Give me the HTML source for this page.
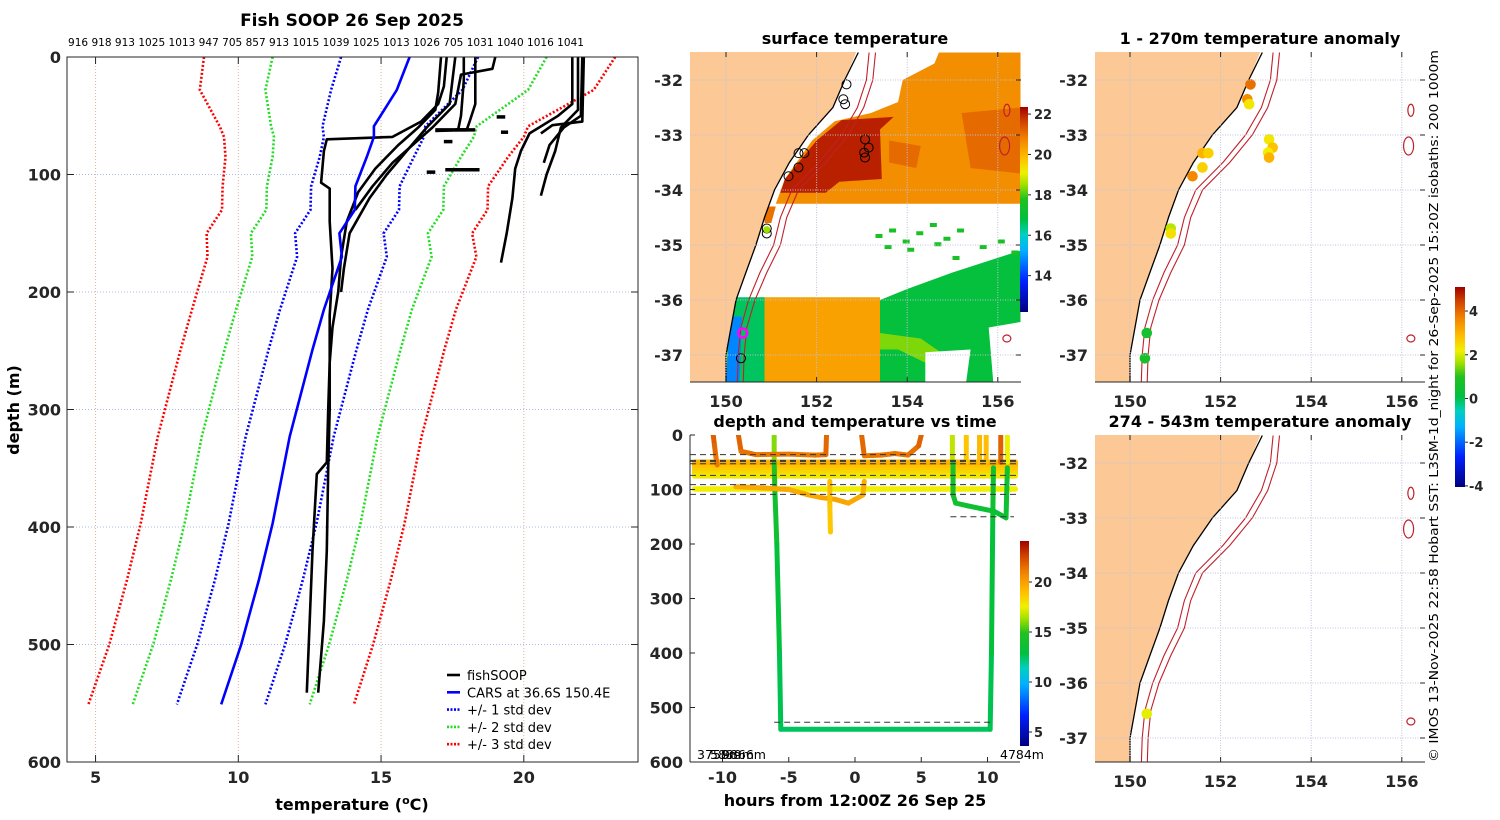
<!DOCTYPE html>
<html><head><meta charset="utf-8"><title>Fish SOOP 26 Sep 2025</title>
<style>
html,body{margin:0;padding:0;background:#fff;}
svg{display:block;font-family:"DejaVu Sans","Liberation Sans",sans-serif;}
.tk{font-weight:bold;font-size:16px;fill:#262626;}
.tt{font-weight:bold;font-size:16px;fill:#000;}
.cb{font-weight:bold;font-size:13px;fill:#262626;}
</style></head>
<body>
<svg id="fig" width="1500" height="820" viewBox="0 0 1500 820" xmlns="http://www.w3.org/2000/svg">
<defs>
<clipPath id="clipL"><rect x="67" y="57" width="571" height="705"/></clipPath>
<clipPath id="clipM1"><rect x="690" y="52" width="331" height="330"/></clipPath>
<clipPath id="clipM2"><rect x="690" y="435" width="330" height="327"/></clipPath>
<clipPath id="clipR1"><rect x="1095" y="52" width="330" height="330"/></clipPath>
<clipPath id="clipR2"><rect x="1095" y="435" width="330" height="327"/></clipPath>
<linearGradient id="gradSST" x1="0" y1="1" x2="0" y2="0"></linearGradient>
<linearGradient id="gradTime" x1="0" y1="1" x2="0" y2="0"></linearGradient>
<linearGradient id="gradAnom" x1="0" y1="1" x2="0" y2="0"></linearGradient>
</defs>

<g>
<text x="352" y="26" text-anchor="middle" style="font-weight:bold;font-size:17px">Fish SOOP 26 Sep 2025</text>
<text x="68" y="46" textLength="516" lengthAdjust="spacingAndGlyphs" style="font-size:10.5px">916 918 913 1025 1013 947 705 857 913 1015 1039 1025 1013 1026 705 1031 1040 1016 1041</text>
<g id="gridL"></g>
<g id="marksL" clip-path="url(#clipL)"></g>
<rect x="67" y="57" width="571" height="705" fill="none" stroke="#262626" stroke-width="1"/>
<g id="ticksL"></g>
<text class="tt" transform="translate(19,410) rotate(-90)" text-anchor="middle">depth (m)</text>
<text class="tt" x="352" y="810" text-anchor="middle">temperature (<tspan dy="-6" font-size="11">o</tspan><tspan dy="6">C)</tspan></text>
<g id="legendL"></g>
</g>

<g>
<text class="tt" x="855" y="44" text-anchor="middle">surface temperature</text>
<g id="mapM1" clip-path="url(#clipM1)"></g>
<g id="axM1"></g>
<rect x="1020" y="107" width="8" height="205" fill="url(#gradSST)"/>
<g id="cbM1"></g>
</g>

<g>
<text class="tt" x="855" y="427" text-anchor="middle">depth and temperature vs time</text>
<g id="marksM2" clip-path="url(#clipM2)"></g>
<g id="axM2"></g>
<text class="tt" x="855" y="806" text-anchor="middle">hours from 12:00Z 26 Sep 25</text>
<rect x="1020" y="541" width="9" height="205" fill="url(#gradTime)"/>
<g id="cbM2"></g>
<text x="697" y="759" style="font-size:12.5px">3758m</text>
<text x="710" y="759" style="font-size:12.5px">5839m</text>
<text x="722" y="759" style="font-size:12.5px">9866m</text>
<text x="1000" y="759" style="font-size:12.5px">4784m</text>
</g>

<g>
<text class="tt" x="1260" y="44" text-anchor="middle">1 - 270m temperature anomaly</text>
<g id="mapR1" clip-path="url(#clipR1)"></g>
<g id="axR1"></g>
</g>
<g>
<text class="tt" x="1260" y="427" text-anchor="middle">274 - 543m temperature anomaly</text>
<g id="mapR2" clip-path="url(#clipR2)"></g>
<g id="axR2"></g>
</g>
<rect x="1455" y="287" width="10" height="200" fill="url(#gradAnom)"/>
<g id="cbR"></g>
<text transform="translate(1438,762) rotate(-90)" textLength="712" lengthAdjust="spacingAndGlyphs" style="font-size:12.5px">© IMOS 13-Nov-2025 22:58 Hobart SST: L3SM-1d_night for 26-Sep-2025 15:20Z isobaths: 200  1000m</text>
</svg>

<script>
// ---------- DATA ----------
const carsDepth = [0,28,59,68,85,110,130,150,170,215,249,323,397,445,500,551];
const carsTemp  = [16.0,15.55,14.75,14.75,14.5,14.1,14.08,13.54,13.63,13.0,12.6,11.8,11.2,10.72,10.1,9.4];
const carsStd   = [2.4,2.3,1.8,1.75,1.65,1.55,1.55,1.55,1.57,1.54,1.54,1.54,1.54,1.54,1.54,1.55];
const stdMultipliers = [1,2,3];
const stdColors = ['#0000ff','#22dd22','#ff0000'];

const profDepths = [
 [0,30,45,60,75,95,115,140,170,200,230,260,300,345,355,420,480,541],
 [0,25,40,55,68,70,80,107,112,140,180,220,260,300,350,420,480,541],
 [0,20,40,60,80,100,120,150,180,200],
 [0,10,15,40,60,90,110,130],
 [0,20,50,62],
 [0,40,55,62,63],
 [0,40,50,65,80,95,120,150,175],
 [0,45,60,80,100,118],
 [0,50,60,75,90],
 [0,55,58,65]
];
const profTemps = [
 [17.1,17.0,16.9,16.3,15.6,14.8,14.2,13.8,13.6,13.5,13.3,13.2,13.15,13.1,12.75,12.6,12.5,12.4],
 [17.3,17.2,17.0,16.4,15.4,13.1,13.0,12.9,13.2,13.2,13.3,13.2,13.2,13.2,13.15,13.1,13.0,12.8],
 [17.6,17.5,17.4,16.6,15.9,15.2,14.6,13.9,13.7,13.6],
 [19.0,18.9,17.8,17.6,16.8,15.4,14.7,14.1],
 [17.9,17.9,17.8,17.7],
 [18.3,18.3,18.1,18.0,16.9],
 [21.7,21.7,21.2,20.2,19.9,19.7,19.6,19.4,19.2],
 [21.9,21.9,21.3,21.1,20.8,20.6],
 [22.05,22.0,21.4,20.9,20.7],
 [22.1,22.05,21.0,20.6]
];
const segDepths = [62,62,96,51,64,72,98];
const segT0 = [16.9,17.6,17.25,19.05,19.2,17.2,16.6];
const segT1 = [18.3,18.0,18.45,19.35,19.45,17.5,16.9];

const xTicksL = [5,10,15,20];
const yTicksL = [0,100,200,300,400,500,600];

const coastLon = [152.92,152.62,152.36,151.82,151.4,151.07,150.85,150.66,150.44,150.22,150.11,150.0,150.0];
const coastLat = [-31.5,-32,-32.5,-33,-33.5,-34,-34.5,-35,-35.5,-36,-36.5,-37,-37.5];
const iso200Lon = [153.16,153.1,152.9,152.55,152.05,151.45,151.2,151.05,150.75,150.5,150.33,150.27,150.25];
const iso1000Lon = [153.3,153.24,153.04,152.7,152.2,151.6,151.34,151.2,150.9,150.64,150.46,150.4,150.38];
const isoLat = [-31.5,-32,-32.5,-33,-33.5,-34,-34.5,-35,-35.5,-36,-36.5,-37,-37.5];
const sstRegionTemps = [20.6,22.0,21.1,21.1,20.3,16.6,14.8,16.9,18.3,21.0];
const sstRegions = [
 [[154.7,-31.5],[156.5,-31.5],[156.5,-34.25],[151.1,-34.25],[151.3,-33.8],[151.9,-33.1],[152.4,-32.75],[153.2,-32.6],[153.8,-32.4],[153.9,-32.0],[154.6,-31.7]],
 [[151.2,-34.05],[151.3,-33.8],[152.0,-33.1],[152.55,-32.73],[153.7,-32.67],[153.4,-32.9],[153.44,-33.8],[152.5,-33.85],[152.2,-34.05]],
 [[155.2,-32.6],[156.5,-32.5],[156.5,-33.7],[155.4,-33.6]],
 [[153.6,-33.1],[154.3,-33.2],[154.2,-33.6],[153.6,-33.5]],
 [[150.8,-35.95],[153.4,-35.95],[153.44,-37.5],[150.8,-37.5]],
 [[150.2,-35.95],[150.85,-35.95],[150.85,-37.5],[150.0,-37.5],[150.05,-36.5]],
 [[150.1,-36.3],[150.35,-36.3],[150.3,-37.5],[150.0,-37.5]],
 [[153.4,-36.0],[154.0,-35.8],[155.0,-35.5],[156.5,-35.1],[156.5,-37.5],[153.4,-37.5]],
 [[153.4,-36.6],[154.3,-36.7],[155.0,-37.1],[154.8,-37.3],[153.8,-36.9],[153.4,-36.9]],
 [[150.85,-34.3],[151.1,-34.3],[151.0,-34.6],[150.85,-34.6]]
];
const sstHoles = [
 [[154.4,-36.95],[155.4,-36.9],[155.3,-37.5],[154.4,-37.5]],
 [[155.8,-36.5],[156.5,-36.4],[156.5,-37.5],[155.9,-37.5]]
];
const speckLon = [153.3,153.6,153.9,154.2,154.5,154.8,155.1,153.5,154.0,154.6,155.0,155.6,156.0,156.3];
const speckLat = [-34.8,-34.7,-34.9,-34.75,-34.6,-34.85,-34.7,-35.0,-35.05,-34.95,-35.2,-35.0,-34.9,-35.1];

const stnLon = [152.66,152.59,152.63,151.6,151.73,151.6,151.38,150.9,150.9,153.07,153.15,153.05,153.07,150.37,150.33];
const stnLat = [-32.08,-32.35,-32.44,-33.33,-33.33,-33.59,-33.75,-34.7,-34.79,-33.08,-33.23,-33.32,-33.41,-36.6,-37.06];
const stnAnom = [3.9,3.5,2.3,3.0,2.6,2.6,3.6,1.8,2.4,2.3,2.8,2.2,3.0,0.6,0.7];
const deepLon = [150.37];
const deepLat = [-36.56];
const deepAnom = [2.1];

const trackTimes = [
 [-6.1,-6.1,-6.05,-5.9,-5.7,-5.6,10.2,10.3,10.4,10.45],
 [-10.7,-10.6,-10.5,-10.4],
 [-8.8,-8.6,-7.5,-5.0,-3.0,-2.2,-2.15],
 [0.5,0.7,2.0,3.0,4.0,4.8,5.0],
 [-9,-7,-5,-3.5,-2.5,-1.5,-0.5,0.6,0.7],
 [-1.9,-1.9,-1.85],
 [7.35,7.35],[8.4,8.4],[9.4,9.4],[9.9,9.9],[11.0,11.0],[11.5,11.5],
 [7.4,7.4,7.6,8.5,9.5,10.5,11.4,11.5]
];
const trackDepths = [
 [0,50,100,200,400,540,540,400,150,60],
 [0,20,40,55],
 [0,30,36,35,37,36,0],
 [0,38,37,34,37,20,0],
 [95,97,100,110,115,118,125,110,85],
 [85,130,178],
 [0,50],[0,50],[0,50],[0,50],[0,50],[0,50],
 [50,110,125,130,135,140,152,60]
];
const trackTemps = [
 [16.5,15.5,14.2,13.5,12.8,12.5,12.5,12.8,13.5,14.2],
 [22,21.8,21.5,21],
 [22,21.5,21.3,21.2,21.2,21.3,22],
 [22,21.3,21.2,21.3,21.2,21.6,22],
 [19.6,19.8,19.7,19.6,19.8,19.9,19.8,19.6,19.4],
 [19.2,18.9,18.6],
 [16.8,16.8],[18.8,18.8],[19.2,19.2],[19.0,19.0],[21.8,21.8],[17.5,17.5],
 [14.6,14.2,14.0,13.8,13.6,13.6,13.5,14.0]
];
const bandDepths = [50,55,60,65,70,75,99];
const bandTemps = [19.3,19.6,18.9,18.6,18.3,17.8,17.6];
const dashDepths = [36,46.5,48.5,52.8,74,91,109];
const dashShortT0 = [7.2,-6.1];
const dashShortT1 = [12.0,10.3];
const dashShortD = [150,527];

const xTicksM2 = [-10,-5,0,5,10];
const yTicksM2 = [0,100,200,300,400,500,600];
const lonTicks = [150,152,154,156];
const latTicks = [-32,-33,-34,-35,-36,-37];
const sstCbTicks = [22,20,18,16,14];
const timeCbTicks = [20,15,10,5];
const anomCbTicks = [4,2,0,-2,-4];

// ---------- HELPERS ----------
const NS='http://www.w3.org/2000/svg';
function mk(tag,attrs,parent){const e=document.createElementNS(NS,tag);for(const k in attrs)e.setAttribute(k,attrs[k]);parent.appendChild(e);return e;}
const cmStops=[[0,[0,0,127]],[0.15,[0,32,255]],[0.3,[0,176,255]],[0.38,[0,208,192]],[0.45,[0,192,64]],[0.55,[32,192,32]],[0.62,[160,224,0]],[0.68,[240,240,0]],[0.75,[255,192,0]],[0.85,[240,128,0]],[0.93,[208,64,0]],[1,[160,0,0]]];
function cmap(v){v=Math.max(0,Math.min(1,v));for(let i=1;i<cmStops.length;i++){if(v<=cmStops[i][0]){const a=cmStops[i-1],b=cmStops[i];const f=(v-a[0])/(b[0]-a[0]);const c=a[1].map((x,j)=>Math.round(x+(b[1][j]-x)*f));return 'rgb('+c.join(',')+')';}}return 'rgb(160,0,0)';}
['gradSST','gradTime','gradAnom'].forEach(id=>{const g=document.getElementById(id);cmStops.forEach(s=>{mk('stop',{offset:s[0],'stop-color':'rgb('+s[1].join(',')+')'},g);});});
const sstMin=12.2,sstMax=22.35,tMin=3.6,tMax=24.1,aMin=-4.05,aMax=5.1;
function pathD(xs,ys){return xs.map((x,i)=>(i?'L':'M')+x.toFixed(1)+' '+ys[i].toFixed(1)).join(' ');}

// ---------- LEFT CHART ----------
const xL=t=>67+(t-4)*28.55, yL=d=>57+d*1.175;
const gridL=document.getElementById('gridL'), ticksL=document.getElementById('ticksL'), marksL=document.getElementById('marksL');
xTicksL.forEach(t=>{
 const g=mk('line',{x1:xL(t),x2:xL(t),y1:57,y2:762,stroke:'#e0b0a0','stroke-width':1,'stroke-dasharray':'1 2'},gridL);
 
 
 mk('line',{x1:xL(t),x2:xL(t),y1:762,y2:755,stroke:'#262626'},ticksL);
 mk('line',{x1:xL(t),x2:xL(t),y1:57,y2:64,stroke:'#262626'},ticksL);
 const tx=mk('text',{x:xL(t),y:783,'text-anchor':'middle',class:'tk'},ticksL);tx.textContent=t;
 
 
});
yTicksL.forEach(d=>{
 const g=mk('line',{x1:67,x2:638,y1:yL(d),y2:yL(d),stroke:'#a8b8e8','stroke-width':1,'stroke-dasharray':'1 2'},gridL);
 
 
 mk('line',{x1:67,x2:74,y1:yL(d),y2:yL(d),stroke:'#262626'},ticksL);
 mk('line',{x1:631,x2:638,y1:yL(d),y2:yL(d),stroke:'#262626'},ticksL);
 const tx=mk('text',{x:61,y:yL(d)+6,'text-anchor':'end',class:'tk'},ticksL);tx.textContent=d;
 
 
});
stdMultipliers.forEach((k,ki)=>{
 [-1,1].forEach(sg=>{
  const p=mk('path',{d:pathD(carsTemp.map((t,i)=>xL(t+sg*k*carsStd[i])),carsDepth.map(yL)),fill:'none',stroke:stdColors[ki],'stroke-width':2.6,'stroke-dasharray':'2 2'},marksL);
  
  
 });
});
profDepths.forEach((ds,i)=>{
 const p=mk('path',{d:pathD(profTemps[i].map(xL),ds.map(yL)),fill:'none',stroke:'#000','stroke-width':2.6,'stroke-linejoin':'round'},marksL);
 
 
});
segDepths.forEach((d,i)=>{
 const p=mk('line',{x1:xL(segT0[i]),x2:xL(segT1[i]),y1:yL(d),y2:yL(d),stroke:'#000','stroke-width':3.5},marksL);
 
 
});
{
 const p=mk('path',{d:pathD(carsTemp.map(xL),carsDepth.map(yL)),fill:'none',stroke:'#0000ff','stroke-width':2.6},marksL);
 
 
}
const legendL=document.getElementById('legendL');
const legLabels=['fishSOOP','CARS at 36.6S 150.4E','+/- 1 std dev','+/- 2 std dev','+/- 3 std dev'];
const legColors=['#000','#0000ff','#0000ff','#22dd22','#ff0000'];
legLabels.forEach((lab,i)=>{
 const y=675+i*17.3;
 const ln=mk('line',{x1:447,x2:460,y1:y,y2:y,stroke:legColors[i],'stroke-width':2.6,'stroke-dasharray':i>1?'2 1.5':'none'},legendL);
 
 
 const tx=mk('text',{x:467,y:y+5,style:'font-size:13px'},legendL);tx.textContent=lab;
 
 
});

// ---------- MAP HELPERS ----------
function drawMapAxes(axG,x0,y0,w,h,lonX,latY,showLonLabels){
 lonTicks.forEach(l=>{
  const g=mk('line',{x1:lonX(l),x2:lonX(l),y1:y0,y2:y0+h,stroke:'#c0c0dc','stroke-width':1,'stroke-dasharray':'1 1.5'},axG);
  
  
  mk('line',{x1:lonX(l),x2:lonX(l),y1:y0+h,y2:y0+h-5,stroke:'#262626'},axG);
  mk('line',{x1:lonX(l),x2:lonX(l),y1:y0,y2:y0+5,stroke:'#262626'},axG);
  if(showLonLabels){const tx=mk('text',{x:lonX(l),y:y0+h+25,'text-anchor':'middle',class:'tk'},axG);tx.textContent=l;
  
  }
 });
 latTicks.forEach(l=>{
  const g=mk('line',{x1:x0,x2:x0+w,y1:latY(l),y2:latY(l),stroke:'#c0c0dc','stroke-width':1,'stroke-dasharray':'1 1.5'},axG);
  
  
  mk('line',{x1:x0+w,x2:x0+w-5,y1:latY(l),y2:latY(l),stroke:'#262626'},axG);
  const tx=mk('text',{x:x0-7,y:latY(l)+6,'text-anchor':'end',class:'tk'},axG);tx.textContent=l;
  
  
 });
 mk('line',{x1:x0,x2:x0+w,y1:y0+h,y2:y0+h,stroke:'#262626'},axG);
}
function polyPts(pts,lonX,latY){return pts.map(p=>lonX(p[0]).toFixed(1)+','+latY(p[1]).toFixed(1)).join(' ');}
function drawLandCoast(g,lonX,latY){
 const landPts=[[149.0,-31.4]].concat(coastLon.map((l,i)=>[l,coastLat[i]])).concat([[149.0,-37.6]]);
 landPts[1]=[coastLon[0],-31.4];
 const land=mk('polygon',{points:polyPts(landPts,lonX,latY),fill:'#fbc896',stroke:'none'},g);
 
 
 const cst=mk('path',{d:pathD(coastLon.map(lonX),coastLat.map(latY)),fill:'none',stroke:'#000','stroke-width':1.3},g);
 
 
 [iso200Lon,iso1000Lon].forEach((arr,k)=>{
  const p=mk('path',{d:pathD(arr.map(lonX),isoLat.map(latY)),fill:'none',stroke:'#c0202a','stroke-width':1.1},g);
  
  
 });
 [[156.2,-32.55,3,6],[156.15,-33.2,5,9],[156.2,-36.7,4,3.5]].forEach(s=>{
  const e=mk('ellipse',{cx:lonX(s[0]),cy:latY(s[1]),rx:s[2],ry:s[3],fill:'none',stroke:'#c0202a','stroke-width':1.2},g);
  
  
 });
}

// ---------- MIDDLE TOP SST MAP ----------
{
 const lonX=l=>726+(l-150)*45.3, latY=l=>80+(-32-l)*55;
 const g=document.getElementById('mapM1');
 sstRegions.forEach((r,i)=>{
  const p=mk('polygon',{points:polyPts(r,lonX,latY),fill:cmap((sstRegionTemps[i]-sstMin)/(sstMax-sstMin))},g);
  
  
 });
 sstHoles.forEach(r=>{
  const p=mk('polygon',{points:polyPts(r,lonX,latY),fill:'#fff'},g);
  
  
 });
 speckLon.forEach((l,i)=>{
  const p=mk('rect',{x:lonX(l),y:latY(speckLat[i]),width:7,height:4,fill:cmap((17.6-sstMin)/(sstMax-sstMin))},g);
  
  
 });
 drawLandCoast(g,lonX,latY);
 stnLon.forEach((l,i)=>{
  const c=mk('circle',{cx:lonX(l),cy:latY(stnLat[i]),r:4.5,fill:'none',stroke:'#000','stroke-width':1},g);
  
  
 });
 const cm=mk('circle',{cx:lonX(150.37),cy:latY(-36.6),r:4.5,fill:'none',stroke:'#ff00ff','stroke-width':2.5},g);
 
 
 const cg=mk('circle',{cx:lonX(150.9),cy:latY(-34.72),r:3.5,fill:'#9ee000',stroke:'none'},g);
 
 
 drawMapAxes(document.getElementById('axM1'),690,52,331,330,lonX,latY,true);
 const cb=document.getElementById('cbM1');
 sstCbTicks.forEach(v=>{
  const y=312-(v-sstMin)/(sstMax-sstMin)*205;
  mk('line',{x1:1028,x2:1031,y1:y,y2:y,stroke:'#262626'},cb);
  const tx=mk('text',{x:1034,y:y+5,class:'cb'},cb);tx.textContent=v;
  
  
 });
}

// ---------- MIDDLE BOTTOM DEPTH-TIME ----------
{
 const xH=h=>855+h*13.25, yD=d=>435+d*0.545;
 const g=document.getElementById('marksM2');
 bandDepths.forEach((d,i)=>{
  const p=mk('line',{x1:xH(-12.1),x2:xH(12.1),y1:yD(d),y2:yD(d),stroke:cmap((bandTemps[i]-tMin)/(tMax-tMin)),'stroke-width':5.5,'stroke-linecap':'round'},g);
  
  
 });
 trackTimes.forEach((ts,i)=>{
  for(let j=1;j<ts.length;j++){
   const tm=(trackTemps[i][j-1]+trackTemps[i][j])/2;
   const p=mk('line',{x1:xH(ts[j-1]),x2:xH(ts[j]),y1:yD(trackDepths[i][j-1]),y2:yD(trackDepths[i][j]),stroke:cmap((tm-tMin)/(tMax-tMin)),'stroke-width':5,'stroke-linecap':'round'},g);
   
   
  }
 });
 dashDepths.forEach(d=>{
  const p=mk('line',{x1:690,x2:1020,y1:yD(d),y2:yD(d),stroke:'#333','stroke-width':1,'stroke-dasharray':'6 4'},g);
  
  
 });
 dashShortD.forEach((d,i)=>{
  const p=mk('line',{x1:xH(dashShortT0[i]),x2:xH(dashShortT1[i]),y1:yD(d),y2:yD(d),stroke:'#333','stroke-width':1,'stroke-dasharray':'6 4'},g);
  
  
 });
 const ax=document.getElementById('axM2');
 mk('line',{x1:690,x2:690,y1:435,y2:762,stroke:'#262626'},ax);
 mk('line',{x1:690,x2:1020,y1:762,y2:762,stroke:'#262626'},ax);
 yTicksM2.forEach(d=>{
  mk('line',{x1:690,x2:695,y1:yD(d),y2:yD(d),stroke:'#262626'},ax);
  const tx=mk('text',{x:683,y:yD(d)+6,'text-anchor':'end',class:'tk'},ax);tx.textContent=d;
  
  
 });
 xTicksM2.forEach(h=>{
  mk('line',{x1:xH(h),x2:xH(h),y1:762,y2:757,stroke:'#262626'},ax);
  const tx=mk('text',{x:xH(h),y:783,'text-anchor':'middle',class:'tk'},ax);tx.textContent=h;
  
  
 });
 const cb=document.getElementById('cbM2');
 timeCbTicks.forEach(v=>{
  const y=746-(v-tMin)/(tMax-tMin)*205;
  mk('line',{x1:1029,x2:1032,y1:y,y2:y,stroke:'#262626'},cb);
  const tx=mk('text',{x:1034,y:y+5,class:'cb'},cb);tx.textContent=v;
  
  
 });
}

// ---------- RIGHT ANOMALY MAPS ----------
[[ 'mapR1','axR1',80,52,330,stnLon,stnLat,stnAnom],['mapR2','axR2',463,435,327,deepLon,deepLat,deepAnom]].forEach(cfg=>{
 const lonX=l=>1130+(l-150)*45.3, latY=l=>cfg[2]+(-32-l)*55;
 const g=document.getElementById(cfg[0]);
 drawLandCoast(g,lonX,latY);
 cfg[5].forEach((l,i)=>{
  const c=mk('circle',{cx:lonX(l),cy:latY(cfg[6][i]),r:5.3,fill:cmap((cfg[7][i]-aMin)/(aMax-aMin))},g);
  
  
 });
 drawMapAxes(document.getElementById(cfg[1]),1095,cfg[3],330,cfg[4],lonX,latY,true);
});
{
 const cb=document.getElementById('cbR');
 anomCbTicks.forEach(v=>{
  const y=487-(v-aMin)/(aMax-aMin)*200;
  mk('line',{x1:1465,x2:1468,y1:y,y2:y,stroke:'#262626'},cb);
  const tx=mk('text',{x:1469,y:y+5,class:'cb'},cb);tx.textContent=v;
  
  
 });
}
</script>
</body></html>
